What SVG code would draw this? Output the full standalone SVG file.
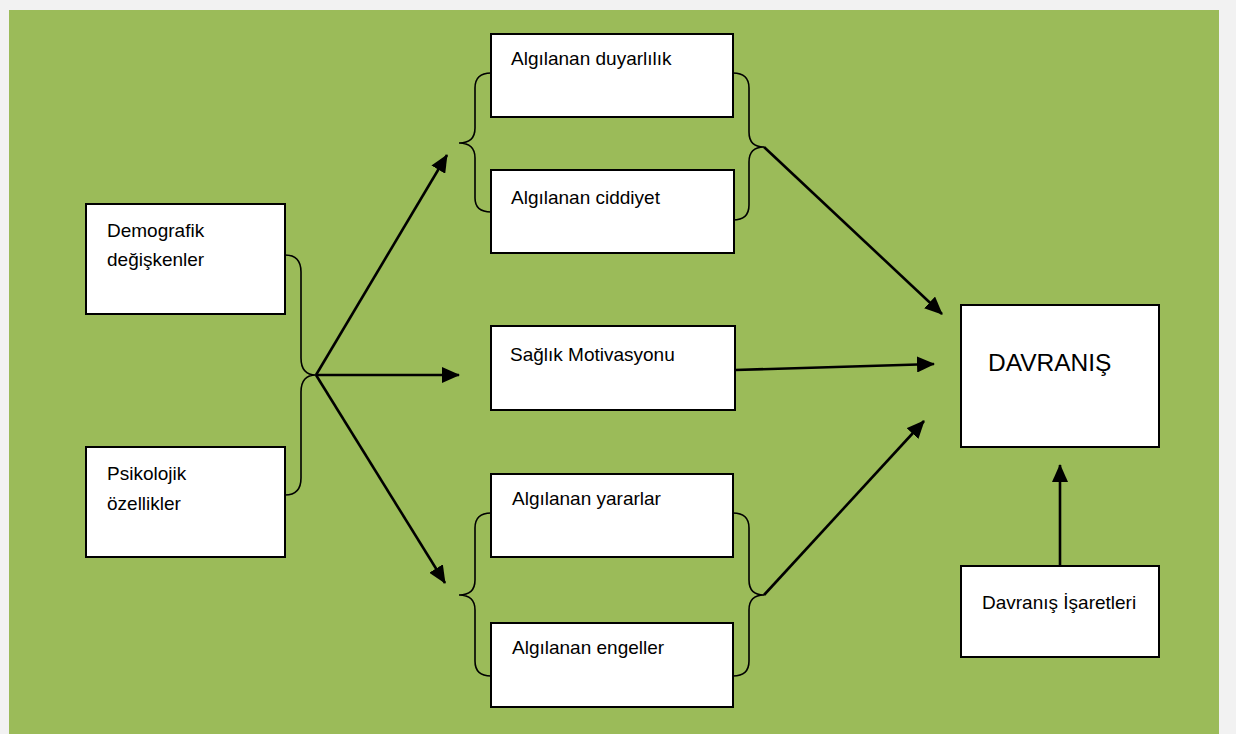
<svg xmlns="http://www.w3.org/2000/svg" width="1236" height="734" viewBox="0 0 1236 734">
<style>
.box{fill:#ffffff;stroke:#000000;stroke-width:2}
.lbl{font-family:"Liberation Sans",Arial,sans-serif;font-size:19px;fill:#000000}
.brace{fill:none;stroke:#000000;stroke-width:1.6}
.arr{fill:none;stroke:#000000;stroke-width:2.6;marker-end:url(#ah)}
</style>
<defs>
<marker id="ah" markerUnits="userSpaceOnUse" markerWidth="18" markerHeight="16" viewBox="0 0 18 16" refX="17" refY="8" orient="auto">
<path d="M0,0 L18,8 L0,16 Z" fill="#000000"/>
</marker>
</defs>
<rect x="0" y="0" width="1236" height="734" fill="#f2f2f2"/>
<rect x="9" y="10" width="1210" height="730" fill="#9bbb59"/>
<g id="n-demografik">
<rect class="box" x="86" y="204" width="199" height="110"/>
<text class="lbl" x="107" y="237">Demografik</text>
<text class="lbl" x="107" y="266">değişkenler</text>
</g>
<g id="n-psikolojik">
<rect class="box" x="86" y="447" width="199" height="110"/>
<text class="lbl" x="107" y="480">Psikolojik</text>
<text class="lbl" x="107" y="510">özellikler</text>
</g>
<g id="n-duyarlilik">
<rect class="box" x="491" y="34" width="242" height="83"/>
<text class="lbl" x="511" y="65">Algılanan duyarlılık</text>
</g>
<g id="n-ciddiyet">
<rect class="box" x="491" y="170" width="243" height="83"/>
<text class="lbl" x="511" y="204">Algılanan ciddiyet</text>
</g>
<g id="n-motivasyon">
<rect class="box" x="491" y="326" width="244" height="84"/>
<text class="lbl" x="510" y="361">Sağlık Motivasyonu</text>
</g>
<g id="n-yararlar">
<rect class="box" x="491" y="474" width="242" height="83"/>
<text class="lbl" x="512" y="505">Algılanan yararlar</text>
</g>
<g id="n-engeller">
<rect class="box" x="491" y="623" width="242" height="84"/>
<text class="lbl" x="512" y="654">Algılanan engeller</text>
</g>
<g id="n-davranis">
<rect class="box" x="961" y="305" width="198" height="142"/>
<text class="lbl" x="988" y="371" style="font-size:24.5px">DAVRANIŞ</text>
</g>
<g id="n-isaretler">
<rect class="box" x="961" y="566" width="198" height="91"/>
<text class="lbl" x="982" y="609">Davranış İşaretleri</text>
</g>
<g id="connectors">
<path class="brace" d="M285,255 Q301,255 301,272 L301,358 Q301,375 316,375 Q301,375 301,392 L301,478 Q301,495 285,495"/>
<path class="brace" d="M491,73 Q475,73 475,88 L475,128 Q475,143 459,143 Q475,143 475,158 L475,198 Q475,212 491,212"/>
<path class="brace" d="M733,73 Q749,73 749,88 L749,132 Q749,147 764,147 Q749,147 749,162 L749,205 Q749,220 733,220"/>
<path class="brace" d="M491,513 Q475,513 475,528 L475,580 Q475,595 459,595 Q475,595 475,610 L475,661 Q475,676 491,676"/>
<path class="brace" d="M733,513 Q749,513 749,528 L749,580 Q749,595 764,595 Q749,595 749,610 L749,661 Q749,676 733,676"/>
<line class="arr" x1="316" y1="375" x2="447" y2="155"/>
<line class="arr" x1="316" y1="375" x2="459" y2="375"/>
<line class="arr" x1="316" y1="375" x2="445" y2="583"/>
<line class="arr" x1="764" y1="147" x2="942" y2="314"/>
<line class="arr" x1="735" y1="370" x2="934" y2="364"/>
<line class="arr" x1="764" y1="595" x2="924" y2="421"/>
<line class="arr" x1="1060" y1="566" x2="1060" y2="465"/>
</g>
</svg>
